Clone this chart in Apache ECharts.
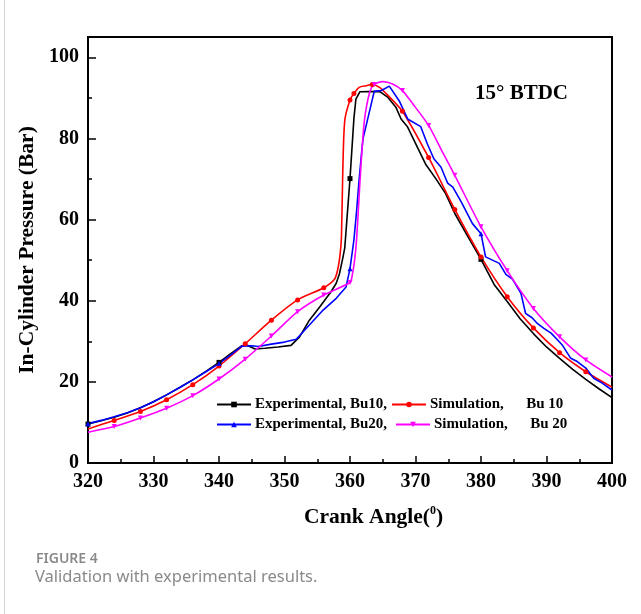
<!DOCTYPE html>
<html>
<head>
<meta charset="utf-8">
<script src="https://cdn.jsdelivr.net/npm/echarts@6/dist/echarts.min.js"></script>
<style>
  html, body { margin: 0; padding: 0; background: #fff; }
  #chart { width: 641px; height: 614px; }
</style>
</head>
<body>
<div id="chart"></div>
<script>
// Experimental, Bu10 (negro)
const expBu10Angle = [320, 322, 324, 326, 328, 330, 332, 334, 336, 338, 340, 342, 343.5, 344.3, 345.5, 347, 349, 351, 352.3, 353.8, 355.4, 357.1, 357.9, 358.4, 358.9, 359.2, 360, 360.6, 360.9, 361.5, 364.5, 365.8, 367, 367.8, 368.8, 370.3, 371.6, 373.1, 374.6, 376, 378, 380, 382, 384, 386, 388, 390, 392, 394, 396, 398, 400];
const expBu10Pressure = [9.6, 10.4, 11.3, 12.3, 13.6, 15.1, 16.8, 18.6, 20.5, 22.6, 24.8, 27.2, 28.9, 29.0, 28.1, 28.3, 28.6, 29.0, 31.1, 35.2, 38.5, 42.2, 44.3, 46.7, 50.5, 53.0, 70.1, 85.0, 89.7, 91.5, 91.6, 90.1, 87.7, 84.8, 82.8, 77.8, 73.5, 70.1, 66.4, 61.5, 55.8, 50.2, 44.0, 39.8, 35.5, 31.9, 28.6, 25.8, 23.1, 20.6, 18.3, 16.1];
const expBu10Marks = [320, 340, 360, 380];

// Experimental, Bu20 (azul)
const expBu20Angle = [320, 322, 324, 326, 328, 330, 332, 334, 336, 338, 340, 342, 343.5, 345, 346, 348, 350, 351.8, 353.8, 355.9, 357.9, 359.4, 360, 360.6, 361, 361.4, 361.8, 362, 363.7, 364.8, 366, 367.5, 368.8, 370.8, 371.8, 372.8, 373.9, 374.9, 375.7, 377, 378.7, 380, 380.7, 382.8, 383.8, 384.8, 386.1, 386.8, 387.8, 388.6, 389.6, 390.7, 391.7, 392.4, 393.7, 394.7, 396, 397.2, 398.5, 400];
const expBu20Pressure = [9.7, 10.5, 11.4, 12.4, 13.6, 15.1, 16.8, 18.6, 20.5, 22.5, 24.5, 26.9, 28.8, 28.9, 28.7, 29.3, 29.8, 30.5, 34.0, 37.7, 40.6, 43.4, 47.9, 55.0, 62.0, 70.0, 77.0, 80.0, 91.6, 91.8, 92.9, 89.3, 84.8, 82.9, 78.7, 75.0, 72.9, 69.0, 68.0, 64.3, 59.0, 56.5, 50.8, 49.2, 46.5, 45.3, 41.8, 36.9, 35.8, 34.4, 33.2, 32.0, 30.3, 29.1, 25.8, 25.0, 23.4, 20.9, 19.7, 18.0];
const expBu20Marks = [320, 340, 360, 380];

// Simulation, Bu 10 (rojo)
const simBu10Angle = [320, 324, 328, 332, 336, 340, 344, 348, 352, 356, 357.6, 358.1, 358.5, 358.7, 358.9, 359.2, 360, 360.6, 361.4, 362.5, 363.4, 364.5, 365.8, 368, 372, 376, 380, 384, 388, 392, 396, 400];
const simBu10Pressure = [8.4, 10.5, 12.7, 15.6, 19.3, 23.9, 29.4, 35.2, 40.2, 43.2, 45.2, 47.5, 51.6, 56.0, 72.0, 84.4, 89.5, 91.1, 92.6, 93.0, 93.3, 92.6, 90.6, 86.7, 75.3, 62.5, 50.8, 41.0, 33.3, 27.2, 22.5, 18.7];
const simBu10Marks = [324, 328, 332, 336, 340, 344, 348, 352, 356, 360, 360.6, 363.4, 368, 372, 376, 380, 384, 388, 392, 396];

// Simulation, Bu 20 (magenta)
const simBu20Angle = [320, 324, 328, 332, 336, 340, 344, 348, 352, 356, 360, 360.3, 360.7, 361, 361.4, 361.7, 362.2, 363, 363.7, 365, 366.5, 368, 369.6, 372, 374, 376, 380, 384, 388, 392, 396, 400];
const simBu20Pressure = [7.6, 9.0, 11.1, 13.5, 16.6, 20.7, 25.6, 31.3, 37.3, 41.4, 44.5, 45.9, 50.0, 55.0, 66.0, 74.0, 84.4, 91.4, 93.3, 94.0, 93.4, 91.8, 88.5, 83.2, 77.0, 70.9, 58.2, 47.4, 38.1, 31.1, 25.4, 21.2];
const simBu20Marks = [324, 328, 332, 336, 340, 344, 348, 352, 356, 360, 363.7, 368, 372, 376, 380, 384, 388, 392, 396];

// Ejes
const xMin = 320, xMax = 400, xStep = 10;
const yMin = 0, yMax = 105, yStep = 20;

const serif = 'Liberation Serif';
const downTriangle = 'path://M0,0 L10,0 L5,10 Z';

// Construir los puntos de la serie (marcador solo en algunos ángulos)
function buildData(angles, pressures, marks) {
    return angles.map((a, i) => {
        const item = { value: [a, pressures[i]] };
        if (!marks.includes(a)) item.symbol = 'none';
        return item;
    });
}

function makeSeries(name, color, symbol, smooth, angles, pressures, marks) {
    return {
        name: name,
        type: 'line',
        data: buildData(angles, pressures, marks),
        smooth: smooth,
        symbol: symbol,
        symbolSize: 5,
        showSymbol: true,
        lineStyle: { color: color, width: 1.6 },
        itemStyle: { color: color },
        emphasis: { disabled: true },
        z: 3
    };
}

const names = ['Experimental, Bu10,', 'Simulation,      Bu 10', 'Experimental, Bu20,', 'Simulation,      Bu 20'];

const series = [
    makeSeries(names[0], '#000000', 'rect', false, expBu10Angle, expBu10Pressure, expBu10Marks),
    makeSeries(names[1], '#ff0000', 'circle', 0.25, simBu10Angle, simBu10Pressure, simBu10Marks),
    makeSeries(names[2], '#0000ff', 'triangle', false, expBu20Angle, expBu20Pressure, expBu20Marks),
    makeSeries(names[3], '#ff00ff', downTriangle, 0.25, simBu20Angle, simBu20Pressure, simBu20Marks)
];

// Leyenda: una por elemento para colocarlas en dos columnas
const legendPos = [[216, 397], [391, 397], [216, 417], [395, 417]];
const legend = names.map((n, i) => ({
    data: [n],
    left: legendPos[i][0],
    top: legendPos[i][1],
    itemWidth: 34,
    itemHeight: 7,
    itemGap: 0,
    padding: 0,
    selectedMode: false,
    textStyle: { fontFamily: serif, fontWeight: 'bold', fontSize: 15, color: '#000', padding: [0, 0, 0, -1] }
}));

const chart = echarts.init(document.getElementById('chart'));

const option = {
    animation: false,
    backgroundColor: '#fff',
    grid: {
        left: 88, right: 29, top: 37, bottom: 151,
        show: true, borderColor: '#000', borderWidth: 2, backgroundColor: 'transparent'
    },
    legend: legend,
    xAxis: {
        type: 'value',
        min: xMin, max: xMax, interval: xStep,
        axisLine: { show: true, lineStyle: { color: '#000', width: 2 } },
        axisTick: { show: true, inside: true, length: 7, lineStyle: { color: '#000', width: 1.5 } },
        minorTick: { show: true, splitNumber: 2, length: 4, lineStyle: { color: '#000', width: 1.5 } },
        axisLabel: { fontFamily: serif, fontWeight: 'bold', fontSize: 20, color: '#000', margin: 9 },
        splitLine: { show: false }
    },
    yAxis: [
        {
            type: 'value',
            min: yMin, max: yMax, interval: yStep,
            name: 'In-Cylinder Pressure (Bar)',
            nameLocation: 'middle',
            nameGap: 39,
            nameTextStyle: { fontFamily: serif, fontWeight: 'bold', fontSize: 21.5, color: '#000' },
            axisLine: { show: true, lineStyle: { color: '#000', width: 2 } },
            axisTick: { show: true, inside: true, length: 8, lineStyle: { color: '#000', width: 1.5 } },
            axisLabel: { fontFamily: serif, fontWeight: 'bold', fontSize: 20, color: '#000', margin: 9, showMaxLabel: false },
            splitLine: { show: false }
        },
        {
            // eje auxiliar solo para las marcas menores
            type: 'value',
            position: 'left',
            min: yMin, max: yMax, interval: yStep / 2,
            axisLine: { show: false },
            axisTick: { show: true, inside: true, length: 4, lineStyle: { color: '#000', width: 1.5 } },
            axisLabel: { show: false },
            splitLine: { show: false }
        }
    ],
    series: series,
    graphic: [
        {
            type: 'line', shape: { x1: 4.5, y1: 0, x2: 4.5, y2: 614 },
            style: { stroke: '#d4d4d4', lineWidth: 1 }
        },
        {
            type: 'text', x: 475, y: 94,
            style: { text: '15° BTDC', fontFamily: serif, fontWeight: 'bold', fontSize: 21, fill: '#000', verticalAlign: 'middle' }
        },
        {
            // título del eje X (desplazado a la derecha como en la figura)
            type: 'text', x: 304, y: 517,
            style: {
                text: '{a|Crank Angle(}{s|0}{a|)}',
                verticalAlign: 'middle',
                rich: {
                    a: { fontFamily: serif, fontWeight: 'bold', fontSize: 21.5, fill: '#000', lineHeight: 24 },
                    s: { fontFamily: serif, fontWeight: 'bold', fontSize: 12, fill: '#000', lineHeight: 24, padding: [0, 0, 12, 0] }
                }
            }
        },
        {
            type: 'text', x: 36, y: 559,
            style: { text: 'FIGURE 4', fontFamily: 'Noto Sans', fontWeight: 600, fontSize: 14, fill: '#8a8a8a', verticalAlign: 'middle' }
        },
        {
            type: 'text', x: 35, y: 577,
            style: { text: 'Validation with experimental results.', fontFamily: 'Noto Sans', fontSize: 16.5, fill: '#8a8a8a', verticalAlign: 'middle' }
        }
    ]
};

chart.setOption(option);
</script>
</body>
</html>
